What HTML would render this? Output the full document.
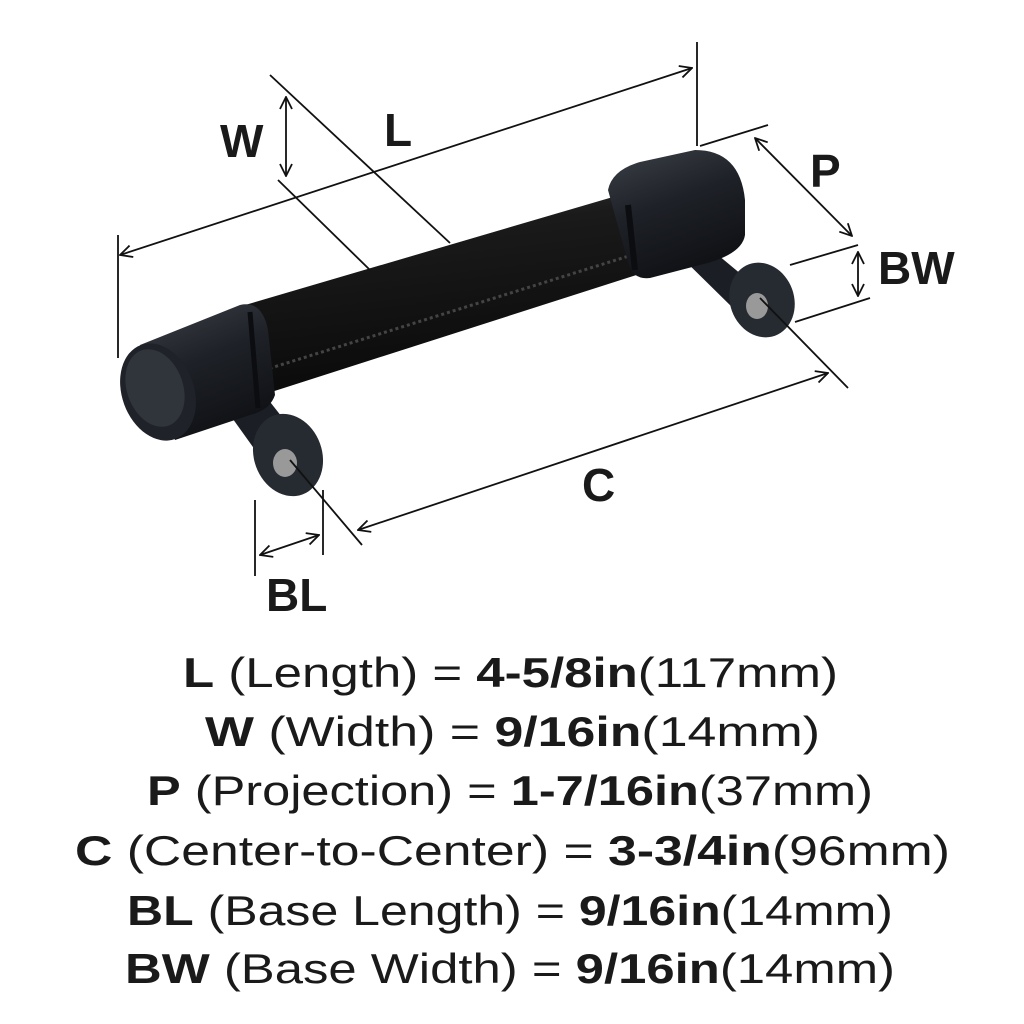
<!DOCTYPE html>
<html><head><meta charset="utf-8"><style>
html,body{margin:0;padding:0;background:#fff;width:1024px;height:1024px;overflow:hidden}
svg{display:block}
text{font-family:"Liberation Sans",sans-serif;fill:#1a1a1a}
</style></head><body>
<svg width="1024" height="1024" viewBox="0 0 1024 1024" xmlns="http://www.w3.org/2000/svg">
<defs>
<marker id="a" viewBox="0 0 14 14" refX="13" refY="7" markerWidth="14" markerHeight="14" orient="auto-start-reverse" markerUnits="userSpaceOnUse">
<path d="M1,1 L13,7 L1,13" fill="none" stroke="#111" stroke-width="1.8"/></marker>
<linearGradient id="bar" x1="0" y1="0" x2="0.25" y2="1">
<stop offset="0" stop-color="#3a3a3a"/><stop offset="0.3" stop-color="#1a1a1a"/><stop offset="1" stop-color="#0a0a0a"/></linearGradient>
<linearGradient id="cap" x1="0" y1="0" x2="0.4" y2="1">
<stop offset="0" stop-color="#3c4048"/><stop offset="0.5" stop-color="#1e2127"/><stop offset="1" stop-color="#101216"/></linearGradient>
</defs>

<!-- Right post -->
<polygon points="672,248 700,240 760,290 735,310" fill="#1b1e24"/>
<ellipse cx="762" cy="300" rx="32" ry="38" transform="rotate(-20 762 300)" fill="#262a31"/>
<ellipse cx="757" cy="306" rx="11" ry="13" fill="#999"/>
<!-- Bar -->
<polygon points="228,310 630,192 652,270 262,395" fill="url(#bar)"/>
<path d="M258,372 L648,250" stroke="#444" stroke-width="3" stroke-dasharray="3 3"/>
<!-- Right cap (cylinder side) -->
<path d="M608,190 Q612,170 640,162 L695,150 Q740,150 745,200 L745,235 Q742,255 700,265 L650,278 Q632,280 628,262 Z" fill="url(#cap)"/>
<path d="M628,205 L635,270" stroke="#0c0d10" stroke-width="6"/>
<!-- Left post -->
<polygon points="205,380 245,370 300,440 268,468" fill="#1b1e24"/>
<ellipse cx="288" cy="455" rx="34" ry="42" transform="rotate(-20 288 455)" fill="#262a31"/>
<ellipse cx="285" cy="463" rx="12" ry="14" fill="#999"/>
<!-- Left cap -->
<path d="M140,345 L240,305 Q262,300 268,330 L275,395 Q270,410 250,415 L175,440 Z" fill="url(#cap)"/>
<path d="M250,312 L258,408" stroke="#0c0d10" stroke-width="5"/>
<ellipse cx="158" cy="392" rx="36" ry="50" transform="rotate(-20 158 392)" fill="#1f2228"/>
<ellipse cx="155" cy="388" rx="28" ry="40" transform="rotate(-20 155 388)" fill="#30343b"/>

<g stroke="#111" stroke-width="1.8" fill="none">
<!-- L -->
<line x1="118" y1="235" x2="118" y2="358"/>
<line x1="697" y1="42" x2="697" y2="146"/>
<line x1="120" y1="255" x2="692" y2="68" marker-start="url(#a)" marker-end="url(#a)"/>
<!-- W -->
<line x1="270" y1="75" x2="450" y2="243"/>
<line x1="278" y1="180" x2="370" y2="270"/>
<line x1="286" y1="97" x2="286" y2="176" marker-start="url(#a)" marker-end="url(#a)"/>
<!-- P -->
<line x1="700" y1="146" x2="768" y2="125"/>
<line x1="790" y1="265" x2="858" y2="245"/>
<line x1="755" y1="138" x2="852" y2="236" marker-start="url(#a)" marker-end="url(#a)"/>
<!-- BW -->
<line x1="795" y1="322" x2="870" y2="298"/>
<line x1="858" y1="252" x2="858" y2="296" marker-start="url(#a)" marker-end="url(#a)"/>
<!-- C -->
<line x1="760" y1="298" x2="848" y2="388"/>
<line x1="290" y1="460" x2="362" y2="545"/>
<line x1="358" y1="530" x2="828" y2="373" marker-start="url(#a)" marker-end="url(#a)"/>
<!-- BL -->
<line x1="255" y1="500" x2="255" y2="576"/>
<line x1="323" y1="490" x2="323" y2="555"/>
<line x1="260" y1="555" x2="319" y2="535" marker-start="url(#a)" marker-end="url(#a)"/>
</g>

<g font-size="46" font-weight="bold">
<text x="220" y="157">W</text>
<text x="384" y="146">L</text>
<text x="810" y="187">P</text>
<text x="878" y="284">BW</text>
<text x="582" y="501">C</text>
<text x="266" y="611">BL</text>
</g>

<g font-size="42">
<text x="183" y="687" textLength="655" lengthAdjust="spacingAndGlyphs"><tspan font-weight="bold">L</tspan> (Length) = <tspan font-weight="bold">4-5/8in</tspan>(117mm)</text>
<text x="205" y="746" textLength="615" lengthAdjust="spacingAndGlyphs"><tspan font-weight="bold">W</tspan> (Width) = <tspan font-weight="bold">9/16in</tspan>(14mm)</text>
<text x="147" y="805" textLength="726" lengthAdjust="spacingAndGlyphs"><tspan font-weight="bold">P</tspan> (Projection) = <tspan font-weight="bold">1-7/16in</tspan>(37mm)</text>
<text x="75" y="865" textLength="875" lengthAdjust="spacingAndGlyphs"><tspan font-weight="bold">C</tspan> (Center-to-Center) = <tspan font-weight="bold">3-3/4in</tspan>(96mm)</text>
<text x="127" y="925" textLength="766" lengthAdjust="spacingAndGlyphs"><tspan font-weight="bold">BL</tspan> (Base Length) = <tspan font-weight="bold">9/16in</tspan>(14mm)</text>
<text x="125" y="983" textLength="770" lengthAdjust="spacingAndGlyphs"><tspan font-weight="bold">BW</tspan> (Base Width) = <tspan font-weight="bold">9/16in</tspan>(14mm)</text>
</g>
</svg>
</body></html>
